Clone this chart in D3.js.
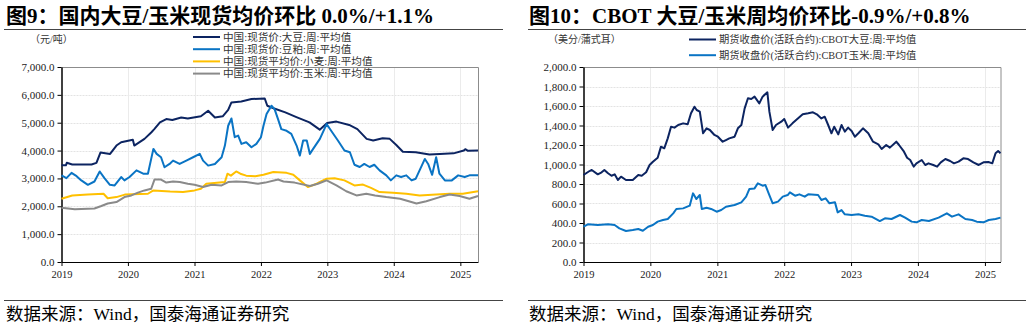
<!DOCTYPE html>
<html>
<head>
<meta charset="utf-8">
<script src="https://cdn.jsdelivr.net/npm/d3@7"></script>
<style>
  body { margin: 0; background: #fff; }
  svg text { font-family: "Liberation Serif", "Noto Sans CJK SC", serif; }
</style>
</head>
<body>
<script>
// ---- left panel: 国内现货 (元/吨) ----
const soyDomestic = [["2019-01-01",3470],["2019-01-25",3470],["2019-01-30",3560],["2019-03-01",3500],["2019-06-15",3500],["2019-07-12",3560],["2019-08-03",3930],["2019-09-25",3880],["2019-10-30",4180],["2019-11-25",4300],["2020-01-28",4390],["2020-02-05",4180],["2020-04-01",4420],["2020-05-08",4650],["2020-05-25",4770],["2020-06-25",5010],["2020-07-30",5130],["2020-09-01",5100],["2020-10-20",5190],["2020-11-25",5150],["2021-02-05",5230],["2021-03-17",5430],["2021-04-23",5190],["2021-06-05",5230],["2021-07-05",5460],["2021-07-23",5730],["2021-09-15",5760],["2021-11-10",5850],["2022-01-22",5870],["2022-02-05",5610],["2022-03-15",5510],["2022-05-15",5370],["2022-07-15",5200],["2022-09-25",5010],["2022-11-20",4750],["2022-12-31",4990],["2023-02-20",5040],["2023-05-01",4920],["2023-06-15",4770],["2023-08-05",4420],["2023-09-10",4360],["2023-11-01",4440],["2023-12-10",4420],["2024-01-15",4200],["2024-02-20",3960],["2024-05-01",3940],["2024-07-15",3860],["2024-09-10",3880],["2024-11-25",3900],["2025-01-20",4000],["2025-01-28",4050],["2025-02-12",3990],["2025-04-08",4000]];
const mealDomestic = [["2019-01-01",3110],["2019-01-28",3010],["2019-02-25",3200],["2019-03-25",3080],["2019-04-20",2930],["2019-05-26",2770],["2019-07-01",2890],["2019-07-30",3250],["2019-08-25",3010],["2019-09-24",2770],["2019-10-20",2750],["2019-11-25",3050],["2019-12-13",2930],["2020-01-10",3050],["2020-02-17",3290],["2020-03-25",3170],["2020-04-20",3170],["2020-05-20",4060],["2020-06-07",3880],["2020-07-01",3760],["2020-07-20",3400],["2020-08-17",3520],["2020-09-05",3640],["2020-10-11",3520],["2020-11-17",3640],["2020-12-24",3760],["2021-01-30",3880],["2021-02-17",3640],["2021-03-17",3460],["2021-04-23",3520],["2021-05-30",3760],["2021-06-17",4180],["2021-07-05",4890],["2021-07-23",5150],["2021-08-10",4480],["2021-08-29",4540],["2021-09-16",4240],["2021-10-12",4300],["2021-11-10",4120],["2021-12-07",4240],["2022-01-01",4480],["2022-01-15",4890],["2022-02-01",5310],["2022-02-28",5610],["2022-03-17",5490],["2022-04-05",5130],["2022-04-23",4770],["2022-05-22",4710],["2022-06-17",4600],["2022-07-16",4180],["2022-08-03",3820],["2022-08-21",4360],["2022-09-10",4360],["2022-09-27",3880],["2022-10-15",4060],["2022-11-21",4420],["2022-12-28",4950],["2023-01-22",4710],["2023-02-28",4360],["2023-04-05",4000],["2023-05-05",3940],["2023-05-30",3490],["2023-06-28",3410],["2023-07-23",3520],["2023-08-21",3410],["2023-09-16",3490],["2023-10-15",3290],["2023-11-21",3110],["2023-12-16",2930],["2024-01-15",3110],["2024-02-10",3050],["2024-03-10",3110],["2024-04-08",2930],["2024-05-01",2990],["2024-06-03",3460],["2024-06-20",3700],["2024-07-08",3520],["2024-07-30",3130],["2024-08-21",3760],["2024-09-08",3170],["2024-10-08",2930],["2024-11-15",2930],["2024-12-20",3110],["2025-01-25",3050],["2025-02-20",3110],["2025-04-08",3110]];
const wheatDomestic = [["2019-01-01",2270],["2019-03-01",2390],["2019-05-25",2420],["2019-08-20",2450],["2019-09-12",2290],["2019-10-30",2330],["2019-12-15",2420],["2020-04-20",2450],["2020-05-20",2570],["2020-08-20",2530],["2020-10-30",2510],["2021-01-01",2570],["2021-02-05",2630],["2021-03-07",2810],["2021-06-17",2870],["2021-07-01",3170],["2021-07-20",3100],["2021-08-18",3250],["2021-09-10",3170],["2021-10-12",3100],["2021-12-01",3080],["2022-01-15",3130],["2022-03-10",3230],["2022-05-22",3200],["2022-06-28",3130],["2022-08-03",2930],["2022-09-16",2690],["2022-11-03",2810],["2022-12-28",2990],["2023-02-10",3010],["2023-04-05",2930],["2023-05-30",2750],["2023-07-16",2780],["2023-08-29",2660],["2023-10-15",2510],["2023-12-28",2490],["2024-03-10",2450],["2024-05-22",2390],["2024-08-21",2420],["2024-11-03",2450],["2025-01-15",2450],["2025-04-08",2540]];
const cornDomestic = [["2019-01-01",1950],["2019-03-15",1890],["2019-07-01",1920],["2019-08-08",2010],["2019-09-12",2100],["2019-10-30",2150],["2019-12-13",2330],["2020-01-20",2390],["2020-02-25",2490],["2020-04-01",2570],["2020-05-08",2630],["2020-05-26",2960],["2020-07-01",2960],["2020-07-30",2850],["2020-09-05",2890],["2020-10-12",2870],["2020-11-25",2810],["2021-01-01",2770],["2021-02-17",2690],["2021-04-05",2770],["2021-05-30",2750],["2021-07-05",2870],["2021-08-18",2890],["2021-10-12",2870],["2021-12-16",2810],["2022-01-25",2850],["2022-04-05",2960],["2022-05-05",2890],["2022-07-05",2850],["2022-09-27",2730],["2022-11-10",2810],["2022-12-28",2930],["2023-02-20",2750],["2023-04-15",2540],["2023-06-10",2390],["2023-08-03",2450],["2023-09-20",2390],["2023-11-21",2330],["2024-02-05",2270],["2024-05-05",2100],["2024-06-28",2180],["2024-09-10",2330],["2024-11-03",2420],["2024-12-28",2370],["2025-02-20",2270],["2025-04-08",2370]];

// ---- right panel: CBOT (美分/蒲式耳) ----
const soyCbot = [["2019-01-01",892],["2019-02-03",933],["2019-02-15",944],["2019-03-20",899],["2019-04-10",920],["2019-04-25",944],["2019-05-15",910],["2019-06-03",885],["2019-06-20",899],["2019-07-08",841],["2019-07-25",875],["2019-08-21",841],["2019-09-27",841],["2019-10-27",892],["2019-11-15",885],["2019-12-09",920],["2019-12-28",995],["2020-01-15",1029],["2020-02-10",1070],["2020-02-28",1183],["2020-03-17",1166],["2020-04-05",1268],["2020-04-23",1388],["2020-05-12",1378],["2020-06-01",1405],["2020-06-28",1422],["2020-07-23",1412],["2020-08-10",1525],["2020-08-29",1593],["2020-09-10",1559],["2020-09-27",1542],["2020-10-15",1320],["2020-11-03",1371],["2020-11-21",1354],["2020-12-16",1303],["2021-01-04",1285],["2021-01-30",1234],["2021-02-17",1251],["2021-03-07",1268],["2021-04-05",1285],["2021-04-23",1371],["2021-05-12",1405],["2021-05-30",1576],["2021-06-17",1679],["2021-07-05",1672],["2021-07-23",1696],["2021-08-18",1627],["2021-09-05",1696],["2021-10-01",1740],["2021-10-12",1542],["2021-10-30",1354],["2021-11-17",1405],["2021-12-16",1439],["2022-01-01",1467],["2022-01-22",1378],["2022-02-15",1422],["2022-03-07",1456],["2022-04-12",1515],["2022-05-12",1525],["2022-06-07",1535],["2022-06-28",1515],["2022-07-23",1473],["2022-08-10",1490],["2022-08-29",1405],["2022-09-16",1320],["2022-10-01",1388],["2022-10-23",1309],["2022-11-10",1405],["2022-11-28",1337],["2022-12-16",1378],["2023-01-04",1344],["2023-01-22",1285],["2023-02-10",1320],["2023-03-07",1371],["2023-04-05",1320],["2023-05-01",1234],["2023-05-30",1207],["2023-06-17",1159],["2023-07-12",1200],["2023-08-01",1173],["2023-09-05",1234],["2023-09-20",1200],["2023-10-15",1138],["2023-11-03",1070],["2023-11-20",1046],["2023-12-09",978],["2023-12-24",1012],["2024-01-22",1046],["2024-02-10",995],["2024-02-28",1012],["2024-03-25",995],["2024-04-15",978],["2024-05-05",1022],["2024-05-30",1056],["2024-06-25",1036],["2024-07-16",1012],["2024-08-10",1029],["2024-09-05",1063],["2024-10-01",1056],["2024-10-30",1022],["2024-11-28",995],["2024-12-24",1022],["2025-01-20",1025],["2025-02-10",1012],["2025-02-28",1115],["2025-03-14",1138],["2025-03-27",1115]];
const cornCbot = [["2019-01-01",362],["2019-01-25",386],["2019-03-20",379],["2019-05-15",386],["2019-06-20",379],["2019-07-16",345],["2019-08-21",318],["2019-09-27",328],["2019-10-27",338],["2019-11-21",321],["2019-12-20",362],["2020-01-15",379],["2020-02-10",414],["2020-03-10",431],["2020-04-05",441],["2020-05-05",499],["2020-05-22",544],["2020-06-28",550],["2020-08-03",578],["2020-08-21",704],["2020-09-08",646],["2020-09-27",687],["2020-10-08",544],["2020-11-03",557],["2020-11-28",544],["2020-12-28",516],["2021-01-22",533],["2021-02-17",567],["2021-04-05",585],["2021-05-12",612],["2021-06-07",670],["2021-06-25",749],["2021-07-23",755],["2021-08-10",807],["2021-09-05",783],["2021-09-20",790],["2021-10-08",704],["2021-10-30",602],["2021-11-28",619],["2021-12-24",670],["2022-01-20",687],["2022-02-01",714],["2022-03-01",680],["2022-03-25",694],["2022-04-23",670],["2022-05-12",694],["2022-07-05",687],["2022-07-23",636],["2022-08-15",653],["2022-09-05",602],["2022-10-05",612],["2022-10-20",509],["2022-11-10",533],["2022-11-28",489],["2023-01-04",482],["2023-02-10",489],["2023-03-17",475],["2023-04-23",465],["2023-06-07",420],["2023-07-05",448],["2023-08-10",441],["2023-09-25",482],["2023-10-23",455],["2023-11-28",414],["2023-12-24",407],["2024-01-22",431],["2024-03-01",420],["2024-04-23",455],["2024-06-07",499],["2024-07-05",465],["2024-08-10",489],["2024-09-16",441],["2024-10-23",431],["2024-11-17",414],["2024-12-24",407],["2025-01-22",431],["2025-02-28",441],["2025-03-27",455]];

const yearTicks = ["2019","2020","2021","2022","2023","2024","2025"];
const leftYTicks = [0,1000,2000,3000,4000,5000,6000,7000];
const rightYTicks = [0,200,400,600,800,1000,1200,1400,1600,1800,2000];

const leftNames = ["中国:现货价:大豆:周:平均值","中国:现货价:豆粕:周:平均值","中国:现货平均价:小麦:周:平均值","中国:现货平均价:玉米:周:平均值"];
const rightNames = ["期货收盘价(活跃合约):CBOT大豆:周:平均值","期货收盘价(活跃合约):CBOT玉米:周:平均值"];

const parseDate = d3.timeParse("%Y-%m-%d");
const fmt = d3.format(",.1f");

const svg = d3.select("body").append("svg")
    .attr("width", 1032)
    .attr("height", 327);

function drawPanel(p) {
    const g = svg.append("g");

    // title + rules
    g.append("text")
        .attr("x", p.titleX).attr("y", 23)
        .attr("font-size", "21px")
        .attr("font-weight", "bold")
        .attr("fill", "#000")
        .text(p.title);
    g.append("line")
        .attr("x1", p.ruleX0).attr("x2", p.ruleX1)
        .attr("y1", 29.5).attr("y2", 29.5)
        .attr("stroke", "#444").attr("stroke-width", 1);
    g.append("line")
        .attr("x1", p.ruleX0).attr("x2", p.ruleX1)
        .attr("y1", 300.5).attr("y2", 300.5)
        .attr("stroke", "#444").attr("stroke-width", 1);
    g.append("text")
        .attr("x", p.titleX).attr("y", 320)
        .attr("font-size", "17.5px")
        .attr("fill", "#000")
        .text("数据来源：Wind，国泰海通证券研究");

    const x = d3.scaleTime()
        .domain([parseDate("2019-01-01"), parseDate(p.end)])
        .range([p.left, p.right]);
    const y = d3.scaleLinear()
        .domain([0, p.yMax])
        .range([262, 67]);

    // grid
    g.append("g").selectAll("line")
        .data(p.yTicks.slice(1))
        .join("line")
        .attr("x1", p.left).attr("x2", p.right)
        .attr("y1", d => Math.round(y(d)) + 0.5).attr("y2", d => Math.round(y(d)) + 0.5)
        .attr("stroke", "#e3e3e3").attr("stroke-dasharray", "2,1");
    g.append("g").selectAll("line")
        .data(yearTicks.slice(1))
        .join("line")
        .attr("x1", d => Math.round(x(parseDate(d + "-01-01"))) + 0.5)
        .attr("x2", d => Math.round(x(parseDate(d + "-01-01"))) + 0.5)
        .attr("y1", 67).attr("y2", 262)
        .attr("stroke", "#ebebeb");

    // frame (top/right gray)
    g.append("path")
        .attr("d", `M${p.left},67.5H${p.right + 0.5}V262`)
        .attr("fill", "none").attr("stroke", "#8c8c8c").attr("stroke-width", 1);

    // axes
    const xAxis = d3.axisBottom(x)
        .tickValues(yearTicks.map(d => parseDate(d + "-01-01")))
        .tickFormat(d3.timeFormat("%Y"))
        .tickSize(4).tickSizeOuter(0);
    const gx = g.append("g").attr("transform", "translate(0,262)").call(xAxis);
    gx.select(".domain").attr("stroke", "#000");
    gx.selectAll("text").attr("font-size", "10.5px").attr("font-family", "'Liberation Serif',serif").attr("dy", "0.9em").attr("fill", "#222");

    const yAxis = d3.axisLeft(y)
        .tickValues(p.yTicks)
        .tickFormat(fmt)
        .tickSize(4).tickSizeOuter(0);
    const gy = g.append("g").attr("transform", `translate(${p.left},0)`).call(yAxis);
    gy.select(".domain").attr("stroke", "#000").attr("stroke-width", 1.5);
    gy.selectAll("text").attr("font-size", "11px").attr("font-family", "'Liberation Serif',serif").attr("fill", "#222").attr("x", -7);

    // unit
    g.append("text")
        .attr("x", p.unitX).attr("y", 43)
        .attr("font-size", "10px").attr("fill", "#333")
        .text(p.unit);

    // lines
    const line = d3.line()
        .x(d => x(parseDate(d[0])))
        .y(d => y(d[1]));
    p.series.forEach(s => {
        g.append("path")
            .datum(s.data)
            .attr("fill", "none")
            .attr("stroke", s.color)
            .attr("stroke-width", 2)
            .attr("stroke-linejoin", "round")
            .attr("d", line);
    });

    // legend
    p.series.forEach((s, i) => {
        const ly = p.legY + i * p.legStep;
        g.append("line")
            .attr("x1", p.legX).attr("x2", p.legX + 27)
            .attr("y1", ly).attr("y2", ly)
            .attr("stroke", s.color).attr("stroke-width", 2);
        g.append("text")
            .attr("x", p.legX + 30).attr("y", ly + 3.8)
            .attr("font-size", p.legFont).attr("fill", "#333")
            .text(s.name);
    });
}

drawPanel({
    title: "图9：国内大豆/玉米现货均价环比 0.0%/+1.1%",
    titleX: 6, ruleX0: 4, ruleX1: 503,
    left: 61.5, right: 478, end: "2025-04-08",
    yMax: 7000, yTicks: leftYTicks,
    unit: "（元/吨）", unitX: 30,
    legX: 193, legY: 37, legStep: 12.2, legFont: "10.6px",
    series: [
        {name: leftNames[0], color: "#0c2461", data: soyDomestic},
        {name: leftNames[1], color: "#0a74c4", data: mealDomestic},
        {name: leftNames[2], color: "#ffc000", data: wheatDomestic},
        {name: leftNames[3], color: "#8a8a8a", data: cornDomestic}
    ]
});

drawPanel({
    title: "图10：CBOT 大豆/玉米周均价环比-0.9%/+0.8%",
    titleX: 529, ruleX0: 528, ruleX1: 1026,
    left: 583.5, right: 1000.5, end: "2025-03-27",
    yMax: 2000, yTicks: rightYTicks,
    unit: "（美分/蒲式耳）", unitX: 548,
    legX: 689, legY: 39.5, legStep: 15.7, legFont: "10.3px",
    series: [
        {name: rightNames[0], color: "#0c2461", data: soyCbot},
        {name: rightNames[1], color: "#0a74c4", data: cornCbot}
    ]
});
</script>
</body>
</html>
